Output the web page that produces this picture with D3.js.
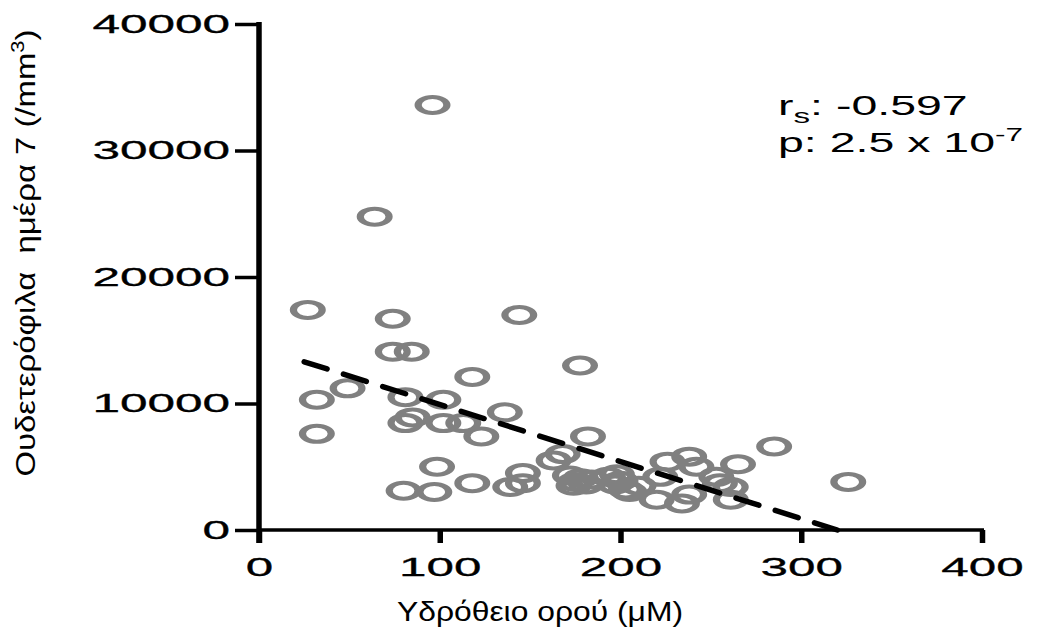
<!DOCTYPE html>
<html lang="el">
<head>
  <meta charset="UTF-8">
  <title>Scatter</title>
  <style>
    * {
      margin: 0;
      padding: 0;
    }
    body {
      background: #fff;
    }
    text {
      font-family: "Liberation Sans", Arial, sans-serif;
    }
  </style>
</head>
<body>
  <script src="https://d3js.org/d3.v7.min.js"></script>
  <script>
    const width = 1040;
    const height = 627;

    // data
    const xTicks = [0, 100, 200, 300, 400];
    const yTicks = [0, 10000, 20000, 30000, 40000];
    const sulfide = [
      96, 64, 27, 74, 144, 74, 84.5, 118, 177.6, 49,
      32, 81, 102, 136, 85, 81, 102, 113, 123, 32,
      182, 98.5, 80, 97, 118, 139, 146, 146, 163, 168,
      172, 175, 178, 181, 184, 174, 193, 197, 200, 203,
      198, 205, 210, 226, 238, 242, 222, 220, 234, 238,
      253, 255, 261, 261, 265, 285, 326
    ];
    const neutrophils = [
      33600, 24770, 17400, 16700, 17000, 14100, 14100, 12100, 13000, 11200,
      10300, 10500, 10300, 9300, 8900, 8450, 8450, 8450, 7400, 7600,
      7400, 5000, 3100, 3000, 3700, 3400, 4500, 3700, 5500, 6000,
      4300, 3800, 4100, 3600, 4000, 3500, 4200, 3600, 3900, 3200,
      4400, 3000, 3500, 5400, 5800, 5000, 4200, 2400, 2100, 2800,
      4200, 3700, 3400, 2400, 5200, 6600, 3800
    ];
    const fitX = [25, 320];
    const fitY = [13300, 0];

    const x = d3.scaleLinear().domain([0, 400]).range([259, 982]);
    const y = d3.scaleLinear().domain([0, 40000]).range([530, 24]);

    const svg = d3.select('body')
      .append('svg')
      .attr('width', width)
      .attr('height', height);

    // points
    const pts = sulfide.map((v, i) => ({ x: v, y: neutrophils[i] }));
    svg.append('g')
      .selectAll('circle')
      .data(pts)
      .enter()
      .append('circle')
      .attr('r', 8)
      .attr('transform', d => `translate(${x(d.x)},${y(d.y)}) scale(1.8,1)`)
      .attr('fill', 'none')
      .attr('stroke', '#808080')
      .attr('stroke-width', 4);

    // fit line, dashes spaced so both ends finish on a dash
    const x1 = x(fitX[0]), y1 = y(fitY[0]), x2 = x(fitX[1]), y2 = y(fitY[1]);
    const len = Math.hypot(x2 - x1, y2 - y1);
    const dash = 24;
    const n = Math.round((len - dash) / 40);
    const gap = (len - dash) / n - dash;
    svg.append('line')
      .attr('x1', x1)
      .attr('y1', y1)
      .attr('x2', x2)
      .attr('y2', y2)
      .attr('stroke', '#000')
      .attr('stroke-width', 5.5)
      .attr('stroke-linecap', 'round')
      .attr('stroke-dasharray', `${dash} ${gap}`);

    // axis lines
    svg.append('line')
      .attr('x1', x(0)).attr('x2', x(0))
      .attr('y1', y(40000) - 2).attr('y2', y(0) + 13)
      .attr('stroke', '#000').attr('stroke-width', 5.5);
    svg.append('line')
      .attr('x1', x(0)).attr('x2', x(400) + 2)
      .attr('y1', y(0)).attr('y2', y(0))
      .attr('stroke', '#000').attr('stroke-width', 3.5);

    const yAxis = d3.axisLeft(y)
      .tickValues(yTicks)
      .tickSize(24)
      .tickSizeOuter(0)
      .tickFormat(d3.format('d'));
    const gy = svg.append('g')
      .attr('transform', `translate(${x(0)},0)`)
      .call(yAxis);
    gy.select('.domain').remove();
    gy.selectAll('.tick line').attr('stroke-width', 3.5);
    gy.selectAll('.tick text')
      .attr('font-size', 25)
      .attr('fill', '#000')
      .attr('stroke', '#000')
      .attr('stroke-width', 0.3)
      .attr('x', -29 / 1.98)
      .attr('transform', 'scale(1.98,1)');

    const xAxis = d3.axisBottom(x)
      .tickValues(xTicks)
      .tickSize(13)
      .tickSizeOuter(0);
    const gx = svg.append('g')
      .attr('transform', `translate(0,${y(0)})`)
      .call(xAxis);
    gx.select('.domain').remove();
    gx.selectAll('.tick line').attr('stroke-width', 5.5);
    gx.selectAll('.tick text')
      .attr('font-size', 26)
      .attr('fill', '#000')
      .attr('stroke', '#000')
      .attr('stroke-width', 0.3)
      .attr('y', 27.5)
      .attr('transform', 'scale(1.9,1)');

    // titles
    svg.append('text')
      .attr('x', 540)
      .attr('y', 621)
      .attr('text-anchor', 'middle')
      .attr('font-size', 27)
      .attr('textLength', 286)
      .attr('lengthAdjust', 'spacingAndGlyphs')
      .text('Υδρόθειο ορού (μΜ)');

    const yt = svg.append('text')
      .attr('transform', 'translate(35,253) rotate(-90)')
      .attr('text-anchor', 'middle')
      .attr('font-size', 27)
      .attr('textLength', 447)
      .attr('lengthAdjust', 'spacingAndGlyphs')
      .style('white-space', 'pre');
    yt.append('tspan').text('Ουδετερόφιλα  ημέρα 7 (/mm');
    yt.append('tspan').attr('dy', -11).attr('font-size', 18).text('3');
    yt.append('tspan').attr('dy', 11).text(')');

    // stats
    const s1 = svg.append('text')
      .attr('transform', 'translate(778,115) scale(1.66,1)')
      .attr('font-size', 28);
    s1.append('tspan').text('r');
    s1.append('tspan').attr('dy', 8).attr('font-size', 20).text('s');
    s1.append('tspan').attr('dy', -8).text(': -0.597');

    const s2 = svg.append('text')
      .attr('transform', 'translate(778,152) scale(1.66,1)')
      .attr('font-size', 28);
    s2.append('tspan').text('p: 2.5 x 10');
    s2.append('tspan').attr('dy', -11).attr('font-size', 19).text('-7');
  </script>
</body>
</html>
